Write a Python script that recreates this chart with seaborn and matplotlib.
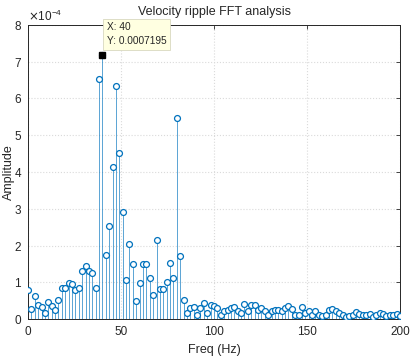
import numpy as np
import pandas as pd
import matplotlib
matplotlib.use("Agg")
import matplotlib.pyplot as plt
import matplotlib.ticker as mticker
import seaborn as sns

# FFT amplitude of the velocity ripple (x 1e-4), one value per frequency bin 0..200 Hz
amp_e4 = [0.78, 0.27, 0.62, 0.39, 0.33, 0.16, 0.46, 0.36, 0.25, 0.51,
          0.84, 0.85, 0.98, 0.95, 0.78, 0.85, 1.30, 1.44, 1.32, 1.25,
          0.85, 6.53, 7.195, 1.74, 2.53, 4.14, 6.35, 4.53, 2.91, 1.07,
          2.03, 1.50, 0.50, 0.98, 1.50, 1.50, 1.12, 0.65, 2.14, 0.82,
          0.82, 1.00, 1.53, 1.12, 5.46, 1.73, 0.51, 0.18, 0.30, 0.33,
          0.12, 0.30, 0.44, 0.16, 0.39, 0.36, 0.30, 0.12, 0.21, 0.24,
          0.30, 0.33, 0.21, 0.18, 0.42, 0.21, 0.39, 0.39, 0.25, 0.30,
          0.21, 0.12, 0.21, 0.24, 0.25, 0.23, 0.30, 0.37, 0.28, 0.10,
          0.12, 0.33, 0.16, 0.23, 0.12, 0.21, 0.10, 0.08, 0.12, 0.25,
          0.27, 0.21, 0.16, 0.12, 0.07, 0.08, 0.12, 0.19, 0.14, 0.12,
          0.10, 0.14, 0.07, 0.12, 0.16, 0.14, 0.08, 0.12, 0.12, 0.14,
          0.08]

# frequency bins (Hz)
freq = np.linspace(0, 200, len(amp_e4))
amp = np.array(amp_e4) * 1e-4

# data tip
tip_x = 40
tip_y = 0.0007195

x_ticks = [0, 50, 100, 150, 200]

df = pd.DataFrame({"Freq": freq, "Amp": amp})

sns.set_style("white")
plt.rcParams["font.family"] = ["Liberation Sans", "DejaVu Sans"]

fig = plt.figure(figsize=(4.18, 3.61), dpi=100)
ax = fig.add_axes([0.067, 0.116, 0.89, 0.815])

blue = "#0072BD"

# grid (MATLAB style dotted)
ax.grid(True, color="#dadada", linestyle=":", linewidth=0.8)
ax.set_axisbelow(True)

# stems
ax.vlines(df["Freq"], 0, df["Amp"], color=blue, linewidth=0.6, alpha=0.75)
# markers
sns.scatterplot(data=df, x="Freq", y="Amp", ax=ax, marker="o", s=18,
                facecolor="white", edgecolor=blue, linewidth=0.9, zorder=3)

# data tip marker
ax.plot([tip_x], [tip_y], marker="s", color="black", markersize=4.5, zorder=4)
ax.annotate(f"X: {tip_x}\nY: {tip_y}", xy=(tip_x, tip_y), xytext=(3, 6),
            textcoords="offset points", fontsize=7.3, va="bottom", ha="left",
            linespacing=1.5,
            bbox=dict(boxstyle="square,pad=0.35", facecolor="#ffffe1",
                      edgecolor="#d8d8c0", linewidth=0.6), zorder=5)

ax.set_xlim(0, 200)
ax.set_ylim(0, 8e-4)
ax.set_xticks(x_ticks)
ax.yaxis.set_major_locator(mticker.MultipleLocator(1e-4))
fmt = mticker.ScalarFormatter(useMathText=True)
fmt.set_powerlimits((-3, 3))
ax.yaxis.set_major_formatter(fmt)
ax.yaxis.get_offset_text().set_fontsize(8.5)

ax.tick_params(direction="in", top=True, right=True, length=3,
               labelsize=8.5, width=0.6, color="#262626")
ax.tick_params(axis="x", pad=5)
ax.tick_params(axis="y", pad=4)
for sp in ax.spines.values():
    sp.set_color("#262626")
    sp.set_linewidth(0.7)

ax.set_title("Velocity ripple FFT analysis", fontsize=9, pad=7)
ax.set_xlabel("Freq (Hz)", fontsize=9, labelpad=4)
ax.set_ylabel("Amplitude", fontsize=9)
ax.yaxis.set_label_coords(-0.036, 0.5)

fig.savefig("out.png", dpi=100)
